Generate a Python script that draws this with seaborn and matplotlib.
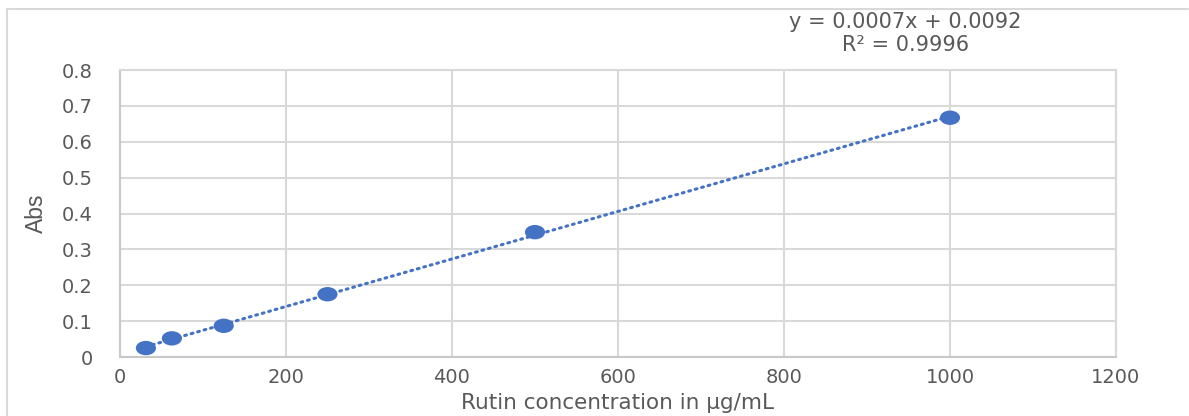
import matplotlib
matplotlib.use("Agg")
import matplotlib.pyplot as plt
import numpy as np
import pandas as pd
import seaborn as sns
from matplotlib.lines import Line2D
from matplotlib.path import Path
from matplotlib.transforms import Affine2D

# Rutin calibration standards
concentration = [31.25, 62.5, 125, 250, 500, 1000]
absorbance = [0.025, 0.052, 0.087, 0.175, 0.348, 0.667]
x_ticks = [0, 200, 400, 600, 800, 1000, 1200]
y_ticks = [0, 0.1, 0.2, 0.3, 0.4, 0.5, 0.6, 0.7, 0.8]
y_tick_labels = ["0", "0.1", "0.2", "0.3", "0.4", "0.5", "0.6", "0.7", "0.8"]
equation = "y = 0.0007x + 0.0092"
r_squared = "R² = 0.9996"

BLUE = "#4472C4"
GRID = "#d9d9d9"
TEXT = "#595959"

df = pd.DataFrame({"conc": concentration, "abs": absorbance})

sns.set_style("white")
plt.rcParams["font.family"] = ["DejaVu Sans"]

# the reference is stretched sideways, so the markers are flat ellipses
ellipse = Path.unit_circle().transformed(Affine2D().scale(1.4, 1.0))

fig = plt.figure(figsize=(11.89, 4.16), dpi=100, facecolor="white",
                 edgecolor="white")
ax = fig.add_axes([0.1009, 0.1418, 0.8377, 0.6899])

# linear trendline over the data range
sns.regplot(
    data=df, x="conc", y="abs", ax=ax, scatter=False, ci=None, truncate=True,
    color=BLUE,
    line_kws={"linestyle": (0, (0.6, 1.6)), "linewidth": 2.2,
              "dash_capstyle": "round", "zorder": 2},
)
sns.scatterplot(data=df, x="conc", y="abs", ax=ax, color=BLUE, s=210,
                marker=ellipse, edgecolor="none", zorder=3)

ax.set_xlim(0, 1200)
ax.set_ylim(0, 0.8)
ax.set_xticks(x_ticks)
ax.set_yticks(y_ticks)
ax.set_yticklabels(y_tick_labels)
ax.grid(True, color=GRID, linewidth=1.5)
ax.set_axisbelow(True)
for side in ax.spines.values():
    side.set_color(GRID)
    side.set_linewidth(1.5)
ax.spines["left"].set_color("#c8c8c8")
ax.spines["bottom"].set_color("#c8c8c8")
ax.tick_params(axis="x", length=0, labelsize=14, colors=TEXT, pad=8)
ax.tick_params(axis="y", length=0, labelsize=14, colors=TEXT, pad=19.5)
ax.set_xlabel("Rutin concentration in µg/mL", fontsize=15.5, color=TEXT, labelpad=4)
ax.set_ylabel("Abs", fontsize=16.5, color=TEXT, labelpad=10,
              family=["Liberation Sans Narrow", "Liberation Sans", "DejaVu Sans"])

fig.text(0.7615, 0.947, equation, ha="center", va="center", fontsize=15, color=TEXT)
fig.text(0.7615, 0.892, r_squared, ha="center", va="center", fontsize=15, color=TEXT)

# chart-area border: only the top and left edges fall inside the picture
top = 1 - 9 / 416
left = 7 / 1189
fig.add_artist(Line2D([left, 0.999], [top, top], transform=fig.transFigure,
                      color=GRID, linewidth=1.5))
fig.add_artist(Line2D([left, left], [0.0, top], transform=fig.transFigure,
                      color=GRID, linewidth=1.5))

fig.savefig("out.png", dpi=100)
